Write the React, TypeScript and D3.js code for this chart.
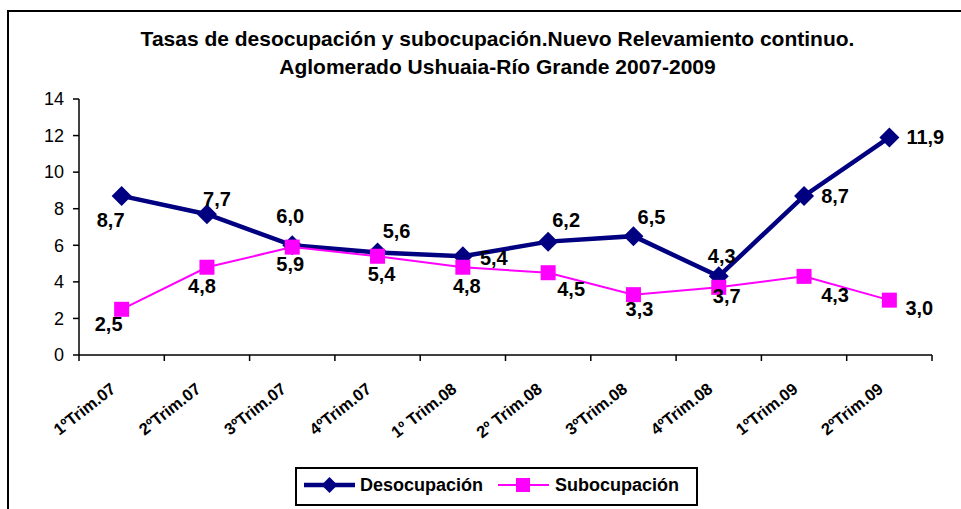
import React from "react";
import * as d3 from "d3";

const categories = ["1ºTrim.07", "2ºTrim.07", "3ºTrim.07", "4ºTrim.07", "1º Trim.08", "2º Trim.08", "3ºTrim.08", "4ºTrim.08", "1ºTrim.09", "2ºTrim.09"];
const desocupacion = [8.7, 7.7, 6.0, 5.6, 5.4, 6.2, 6.5, 4.3, 8.7, 11.9];
const subocupacion = [2.5, 4.8, 5.9, 5.4, 4.8, 4.5, 3.3, 3.7, 4.3, 3.0];
const yTicks = [0, 2, 4, 6, 8, 10, 12, 14];
const titleLines = ["Tasas de desocupación y subocupación.Nuevo Relevamiento continuo.", "Aglomerado Ushuaia-Río Grande 2007-2009"];

// label offsets (styling)
const desLabelOff: [number, number][] = [[-11, 24], [10, -15], [-2, -29], [19, -22], [31, 2], [18, -22], [18, -19], [3, -20], [31, 0], [36, 0]];
const subLabelOff: [number, number][] = [[-13, 15], [-5, 19], [-2, 17], [4, 18], [4, 19], [23, 16], [6, 14], [8, 9], [31, 19], [30, 8]];

const NAVY = "#000080";
const MAG = "#FF00FF";
const FONT = "'Liberation Sans', Arial, sans-serif";

const fmt = (v: number) => v.toFixed(1).replace(".", ",");

export default function App() {
  const W = 961, H = 509;
  const x0 = 79, x1 = 932, yTop = 99, yBot = 355;
  const x = d3.scaleBand<string>().domain(categories).range([x0, x1]);
  const y = d3.scaleLinear().domain([0, 14]).range([yBot, yTop]);
  const cx = (i: number) => (x(categories[i]) as number) + x.bandwidth() / 2;
  const line = d3.line<number>().x((_, i) => cx(i)).y((v) => y(v));
  const boundaries = d3.range(categories.length + 1).map((i) => x0 + i * x.bandwidth());

  const diamond = (px: number, py: number, r: number) => `M${px},${py - r}L${px + r},${py}L${px},${py + r}L${px - r},${py}Z`;

  return (
    <div style={{ position: "absolute", left: 0, top: 0 }}>
      <svg width={W} height={H} style={{ display: "block", fontFamily: FONT }}>
        <rect x={0} y={0} width={W} height={H} fill="#fff" />
        <rect x={8} y={11} width={1200} height={800} fill="none" stroke="#000" strokeWidth={2} />
        {titleLines.map((t, i) => (
          <text key={i} x={497.5} y={46 + i * 28} textAnchor="middle" fontSize={21} fontWeight="bold" fill="#000">{t}</text>
        ))}
        {/* y axis */}
        <line x1={x0} x2={x0} y1={yTop} y2={yBot} stroke="#000" strokeWidth={1.5} />
        {yTicks.map((t) => (
          <g key={t}>
            <line x1={x0 - 6} x2={x0} y1={y(t)} y2={y(t)} stroke="#000" strokeWidth={1.5} />
            <text x={64} y={y(t)} dy="0.35em" textAnchor="end" fontSize={18} fill="#000">{t}</text>
          </g>
        ))}
        {/* x axis */}
        <line x1={x0} x2={x1} y1={yBot} y2={yBot} stroke="#000" strokeWidth={1.5} />
        {boundaries.map((b, i) => (
          <line key={i} x1={b} x2={b} y1={yBot} y2={yBot + 6} stroke="#000" strokeWidth={1.5} />
        ))}
        {categories.map((c, i) => (
          <text key={c} transform={`translate(${cx(i) - 5},${yBot + 36}) rotate(-38)`} textAnchor="end" fontSize={16.5} fontWeight="bold" fill="#000">{c}</text>
        ))}
        {/* series */}
        <path d={line(desocupacion) || ""} fill="none" stroke={NAVY} strokeWidth={4.5} />
        {desocupacion.map((v, i) => (
          <path key={i} d={diamond(cx(i), y(v), 10)} fill={NAVY} />
        ))}
        <path d={line(subocupacion) || ""} fill="none" stroke={MAG} strokeWidth={2} />
        {subocupacion.map((v, i) => (
          <rect key={i} x={cx(i) - 7.5} y={y(v) - 7.5} width={15} height={15} fill={MAG} />
        ))}
        {desocupacion.map((v, i) => (
          <text key={i} x={cx(i) + desLabelOff[i][0]} y={y(v) + desLabelOff[i][1]} dy="0.35em" textAnchor="middle" fontSize={20} fontWeight="bold" fill="#000">{fmt(v)}</text>
        ))}
        {subocupacion.map((v, i) => (
          <text key={i} x={cx(i) + subLabelOff[i][0]} y={y(v) + subLabelOff[i][1]} dy="0.35em" textAnchor="middle" fontSize={20} fontWeight="bold" fill="#000">{fmt(v)}</text>
        ))}
        {/* legend */}
        <rect x={296} y={468} width={401} height={37} fill="#fff" stroke="#000" strokeWidth={2} />
        <line x1={304} x2={355} y1={485} y2={485} stroke={NAVY} strokeWidth={4.5} />
        <path d={diamond(329.5, 485, 8)} fill={NAVY} />
        <text x={360} y={485} dy="0.35em" fontSize={18} fontWeight="bold" fill="#000">Desocupación</text>
        <line x1={498} x2={549} y1={485} y2={485} stroke={MAG} strokeWidth={2} />
        <rect x={516} y={478} width={14} height={14} fill={MAG} />
        <text x={555} y={485} dy="0.35em" fontSize={18} fontWeight="bold" fill="#000">Subocupación</text>
      </svg>
    </div>
  );
}
